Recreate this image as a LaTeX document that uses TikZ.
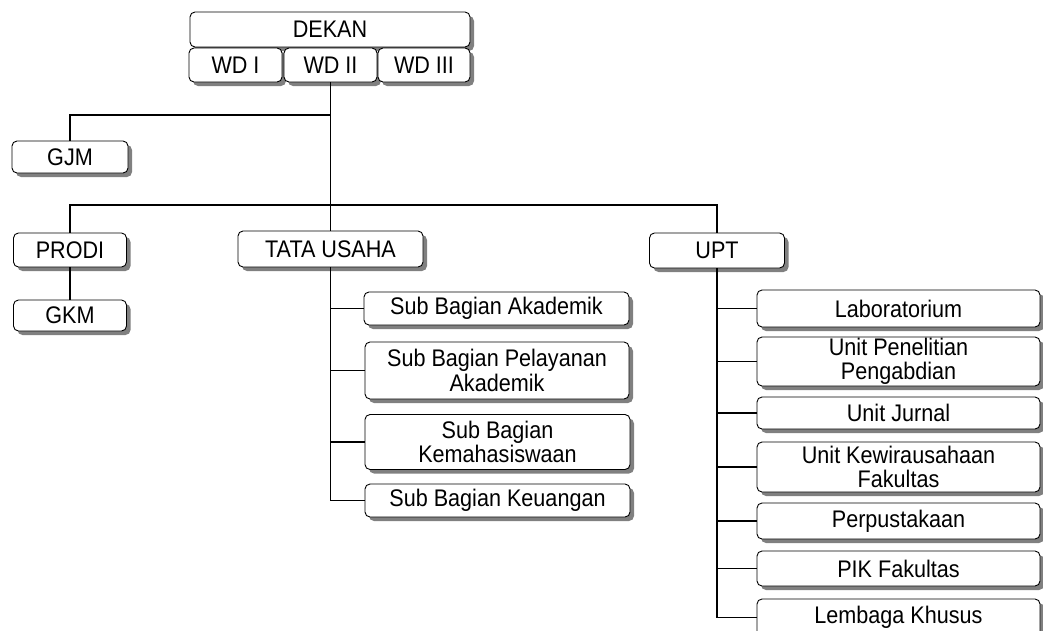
\documentclass[tikz,border=0pt]{standalone}
\usepackage{fontspec}
\setmainfont[FakeStretch=0.9]{Liberation Sans}
\usepackage{tikz}
\usetikzlibrary{positioning,shadows,calc}

\begin{document}
\begin{tikzpicture}[
    x=1pt, y=-1pt,
    unit/.style={rectangle, draw, rounded corners=5pt, fill=white, line width=0.9pt, inner sep=0pt, align=center,
        font=\fontsize{24}{24.5}\selectfont,
        drop shadow={shadow xshift=4pt, shadow yshift=-4pt, fill=black!50, opacity=1}},
    link/.style={line width=1.3pt}
]
\clip (0,0) rectangle (1043,630);
% top
\node[unit, minimum width=280pt, minimum height=35pt] (dekan) at (330,29.5) {DEKAN};
\node[unit, minimum width=93pt, minimum height=34pt] (wd1) at (235.5,65) {WD I};
\node[unit, minimum width=93pt, minimum height=34pt] (wd2) at (330.5,65) {WD II};
\node[unit, minimum width=92pt, minimum height=34pt] (wd3) at (424,65) {WD III};
% second level
\node[unit, minimum width=116pt, minimum height=32pt] (gjm) at (70,157) {GJM};
\node[unit, minimum width=113pt, minimum height=34pt] (prodi) at (70,250) {PRODI};
\node[unit, minimum width=113pt, minimum height=31pt] (gkm) at (70,315.5) {GKM};
\node[unit, minimum width=185pt, minimum height=36pt] (tu) at (330.5,249) {TATA USAHA};
\node[unit, minimum width=135pt, minimum height=35pt] (upt) at (717,250.5) {UPT};
% tata usaha
\node[unit, minimum width=265pt, minimum height=33pt] (sba) at (496.5,308.5) {Sub Bagian Akademik};
\node[unit, minimum width=264pt, minimum height=57pt] (sbp) at (497,370.5) {Sub Bagian Pelayanan\\Akademik};
\node[unit, minimum width=265pt, minimum height=55pt] (sbk) at (497.5,442) {Sub Bagian\\Kemahasiswaan};
\node[unit, minimum width=265pt, minimum height=33pt] (sbu) at (497.5,500.5) {Sub Bagian Keuangan};
% upt
\node[unit, minimum width=283pt, minimum height=37pt] (lab) at (898.5,308.5) {Laboratorium};
\node[unit, minimum width=283pt, minimum height=49pt] (upp) at (898.5,361.5) {Unit Penelitian\\Pengabdian};
\node[unit, minimum width=283pt, minimum height=32pt] (ujr) at (898.5,413) {Unit Jurnal};
\node[unit, minimum width=283pt, minimum height=50pt] (ukf) at (898.5,467) {Unit Kewirausahaan\\Fakultas};
\node[unit, minimum width=283pt, minimum height=36pt] (per) at (898.5,521) {Perpustakaan};
\node[unit, minimum width=283pt, minimum height=35pt] (pik) at (898.5,568.5) {PIK Fakultas};
\node[unit, minimum width=283pt, minimum height=37pt] (lem) at (898.5,617.5) {Lembaga Khusus};
% connectors
\coordinate (j1) at (330.5,115);\coordinate (j2) at (330.5,205);
\draw[link] (wd2.south) -- (tu.north);
\draw[link] (j1) -| (gjm.north);
\draw[link] (prodi.north) |- (j2) -| (upt.north);
\draw[link] (prodi.south) -- (gkm.north);
\draw[link] (tu.south) |- (sbu.west);
\foreach \n in {sba,sbp,sbk} {\draw[link] (tu.south |- \n.west) -- (\n.west);}
\draw[link] (upt.south) |- (lem.west);
\foreach \n in {lab,upp,ujr,ukf,per,pik} {\draw[link] (upt.south |- \n.west) -- (\n.west);}
\end{tikzpicture}
\end{document}
